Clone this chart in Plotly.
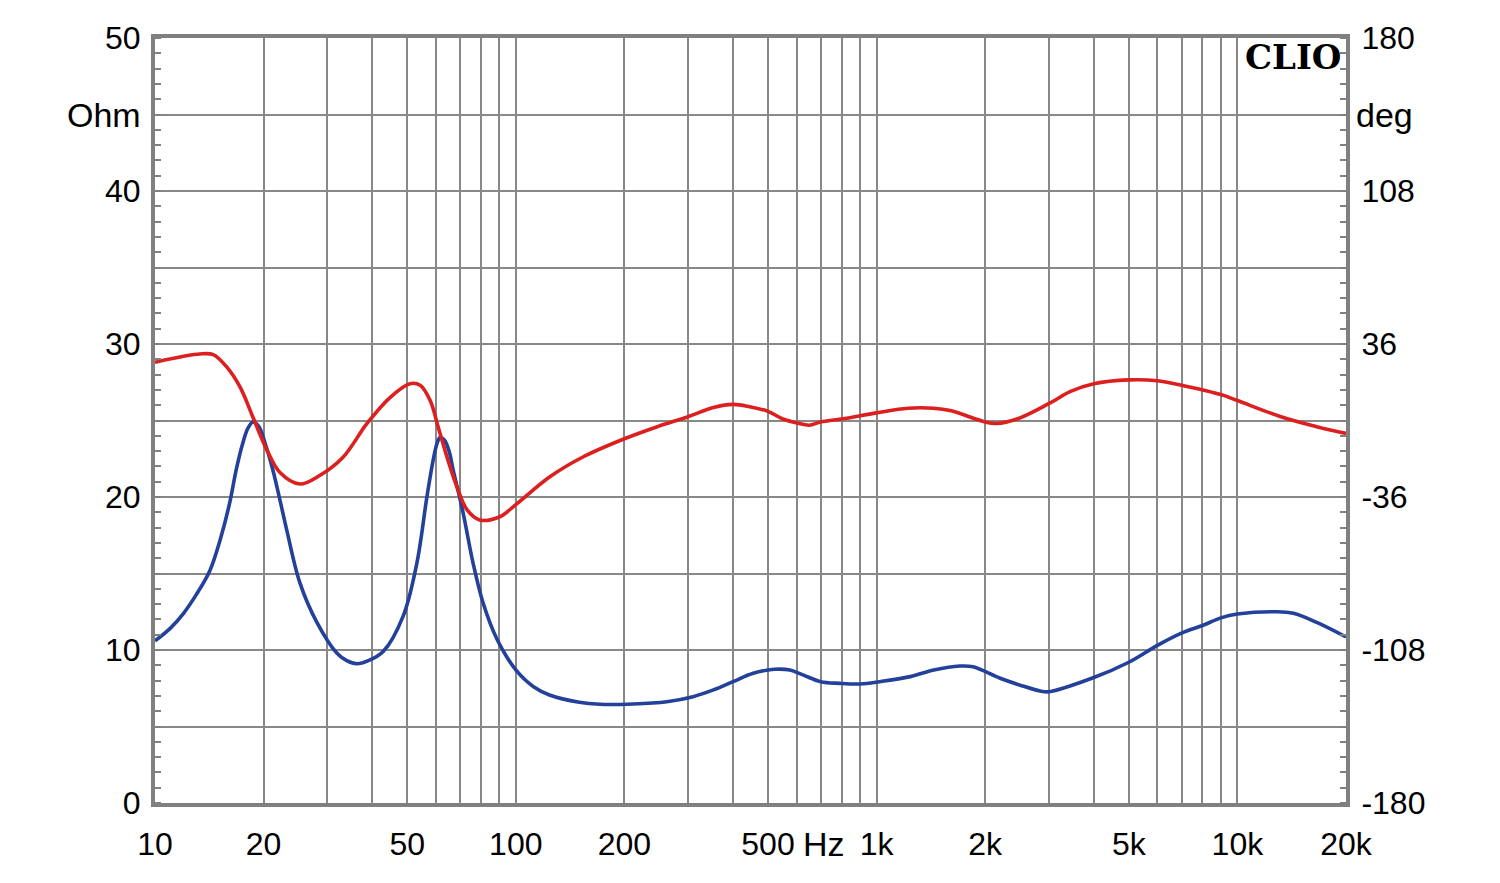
import plotly.graph_objects as go

# ---- data ----
imp_freq = [10, 11, 12, 13, 14.2, 15.2, 16.1, 16.8, 17.5, 18.1, 18.7, 19.4, 20.2, 21.2, 22.2,
            23.2, 25.2, 28.1, 31.9, 34, 36.3, 39, 42.9, 48.7,
            53.2, 56.7, 59, 60.5, 61.7, 63.5, 65.5, 67, 71.4, 76.1, 81.1, 88.7, 100, 112, 124, 150,
            171, 211, 262, 310, 353, 400, 455, 520, 575, 625, 700, 790, 900, 1020, 1240, 1440,
            1700, 1850, 2200, 2500, 2860, 3000, 4000, 5000, 6000, 7000, 8000, 9000, 10000,
            12800, 14300, 16600, 20000]
imp_ohm = [10.6, 11.4, 12.4, 13.6, 15.2, 17.3, 19.6, 21.8, 23.5, 24.5, 24.9, 24.6, 23.5, 21.8, 19.8,
           17.8, 14.4, 11.8, 9.8, 9.3, 9.1, 9.3, 9.9, 12.2,
           15.7, 20.0, 22.4, 23.5, 23.9, 23.7, 22.9, 21.8, 19.0, 15.7, 13.1, 10.7, 8.7, 7.6, 7.06,
           6.58, 6.45, 6.47, 6.62, 6.95, 7.39, 7.93, 8.48, 8.74, 8.69, 8.37, 7.93, 7.82, 7.78,
           7.93, 8.26, 8.69, 8.95, 8.9, 8.15, 7.7, 7.3, 7.27, 8.2, 9.2, 10.3, 11.1, 11.6, 12.1,
           12.35, 12.5, 12.4, 11.8, 10.85]

ph_freq = [10, 12, 13.3, 14.5, 15.8, 17.2, 18.7, 20.4, 22.2, 25.2, 28.6, 33.2, 38.7, 44.8,
           50.9, 54.3, 57.9, 60.9, 64.5, 68.7, 73.3, 79.4, 90, 100, 124, 153, 200, 247, 300,
           353, 400, 445, 500, 550, 610, 650, 700, 800, 1000, 1220, 1440, 1600, 2000, 2150,
           2450, 3000, 3450, 4000, 5000, 6000, 7000, 9000, 10000, 13200, 16600, 20000]
ph_deg = [27.4, 30.2, 31.3, 31.0, 25.2, 15.8, 1.4, -13.7, -24.5, -29.9, -25.9, -17.3, -1.4, 10.8,
          17.3, 16.6, 9.4, -2.9, -17.3, -31.3, -42.1, -46.8, -45.4, -39.6, -26.6, -17.3, -8.6,
          -2.9, 1.8, 6.1, 7.6, 6.5, 4.3, 0.7, -1.4, -2.2, -0.7, 0.7, 3.6, 5.8, 5.8, 4.7,
          -0.7, -1.4, 0.7, 7.9, 13.7, 17.3, 19.1, 18.7, 16.6, 12.2, 9.4, 1.8, -2.9, -6.1]

x_tickvals = [10, 20, 30, 40, 50, 60, 70, 80, 90,
              100, 200, 300, 400, 500, 600, 700, 800, 900,
              1000, 2000, 3000, 4000, 5000, 6000, 7000, 8000, 9000, 10000, 20000]
x_ticktext = ["10", "20", "", "", "50", "", "", "", "",
              "100", "200", "", "", "500", "", "", "", "",
              "1k", "2k", "", "", "5k", "", "", "", "", "10k", "20k"]
y_tickvals = [0, 5, 10, 15, 20, 25, 30, 35, 40, 45, 50]
y_ticktext = ["0", "", "10", "", "20", "", "30", "", "40", "", "50"]
y2_tickvals = [-180, -108, -36, 36, 108, 180]
y2_ticktext = ["-180", "-108", "-36", "36", "108", "180"]

GRID = "#888888"
FRAME = "#808080"
FONT = "Liberation Sans, Arial, sans-serif"
FS = 32
FS_UNIT = 34

fig = go.Figure()
fig.add_trace(go.Scatter(x=imp_freq, y=imp_ohm, mode="lines",
                         line=dict(color="#23409a", width=3.6, shape="spline", smoothing=1.0),
                         yaxis="y", showlegend=False, hoverinfo="skip"))
fig.add_trace(go.Scatter(x=ph_freq, y=ph_deg, mode="lines",
                         line=dict(color="#dc1f1f", width=3.6, shape="spline", smoothing=1.0),
                         yaxis="y2", showlegend=False, hoverinfo="skip"))

fig.update_layout(
    width=1492, height=875,
    margin=dict(l=147, r=154, t=30, b=80, pad=0, autoexpand=False),
    paper_bgcolor="white", plot_bgcolor="white",
    font=dict(family=FONT, size=FS, color="black"),
    xaxis=dict(type="log", range=[1, 4.30103], tickmode="array",
               tickvals=x_tickvals, ticktext=x_ticktext,
               showgrid=True, gridcolor=GRID, gridwidth=1.6,
               showline=True, linecolor=FRAME, linewidth=4, mirror=True,
               ticks="", ticklabelstandoff=10, zeroline=False, automargin=False,
               tickfont=dict(family=FONT, size=FS, color="black")),
    yaxis=dict(range=[0, 50], tickmode="array", tickvals=y_tickvals, ticktext=y_ticktext,
               showgrid=True, gridcolor=GRID, gridwidth=1.6,
               showline=True, linecolor=FRAME, linewidth=4,
               ticks="", ticklabelstandoff=4, zeroline=False, automargin=False,
               minor=dict(tickmode="linear", tick0=0, dtick=1, ticks="inside", ticklen=6,
                          tickcolor=FRAME, tickwidth=1.5, showgrid=False),
               tickfont=dict(family=FONT, size=FS, color="black")),
    yaxis2=dict(range=[-180, 180], overlaying="y", side="right", tickmode="array",
                tickvals=y2_tickvals, ticktext=y2_ticktext,
                showgrid=False, showline=True, linecolor=FRAME, linewidth=4,
                ticks="", ticklabelstandoff=5, zeroline=False, automargin=False,
                minor=dict(tickmode="linear", tick0=-180, dtick=7.2, ticks="inside", ticklen=6,
                           tickcolor=FRAME, tickwidth=1.5, showgrid=False),
                tickfont=dict(family=FONT, size=FS, color="black")),
)

fig.add_annotation(text="Ohm", xref="paper", yref="y", x=0, y=45, xanchor="right",
                   yanchor="middle", xshift=-12, showarrow=False,
                   font=dict(family=FONT, size=FS_UNIT, color="black"))
fig.add_annotation(text="deg", xref="paper", yref="y", x=1, y=45, xanchor="left",
                   yanchor="middle", xshift=8, showarrow=False,
                   font=dict(family=FONT, size=FS_UNIT, color="black"))
fig.add_annotation(text="Hz", xref="x", yref="paper", x=2.853, y=0, xanchor="center",
                   yanchor="top", yshift=-20, showarrow=False,
                   font=dict(family=FONT, size=FS_UNIT, color="black"))
fig.add_annotation(text="<b>CLIO</b>", xref="paper", yref="paper", x=1, y=1, xanchor="right",
                   yanchor="top", xshift=-2, yshift=3, showarrow=False,
                   font=dict(family="DejaVu Serif, serif", size=34, color="black"))

fig.write_html("out.html")
